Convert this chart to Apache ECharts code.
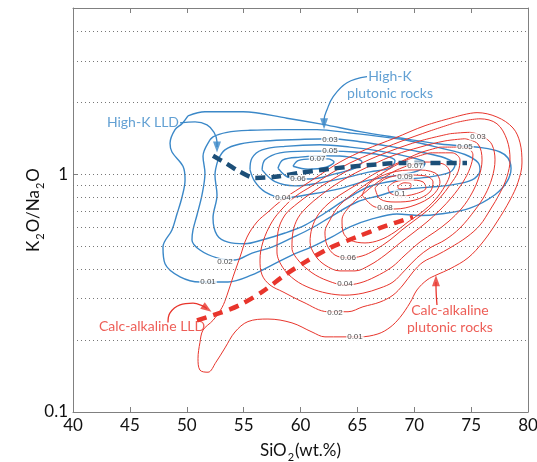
<!DOCTYPE html>
<html><head><meta charset="utf-8">
<script src="https://cdn.jsdelivr.net/npm/echarts@6/dist/echarts.min.js"></script>
<style>html,body{margin:0;padding:0;background:#fff}#c{width:537px;height:462px}</style>
</head><body><div id="c"></div>
<script>
// ---------- data ----------
const xTicks = [40, 45, 50, 55, 60, 65, 70, 75, 80];
const yLabelTicks = [0.1, 1];
const yGridValues = [0.2, 0.3, 0.4, 0.5, 0.6, 0.7, 0.8, 0.9, 1, 2, 3, 4];

// High-K plutonic rocks density contours (SiO2, K2O/Na2O)
const blue01 = [[50.11,1.76],[51.60,1.83],[54.95,1.83],[58.81,1.72],[61.98,1.62],[65.23,1.51],[68.75,1.42],[72.26,1.34],[76.04,1.29],[77.54,1.24],[78.24,1.17],[78.51,1.06],[78.15,0.93],[77.10,0.82],[74.90,0.72],[72.26,0.68],[70.51,0.67],[68.48,0.68],[66.37,0.65],[64.35,0.60],[62.77,0.545],[61.01,0.495],[59.25,0.457],[57.49,0.415],[55.74,0.377],[53.63,0.352],[51.16,0.352],[49.41,0.37],[48.09,0.42],[47.91,0.494],[48.70,0.583],[49.14,0.68],[49.58,0.80],[49.85,0.946],[49.67,1.08],[48.70,1.24],[48.53,1.35],[48.97,1.54],[49.58,1.63]];
const blue02 = [[51.87,1.35],[52.31,1.435],[53.54,1.50],[55.56,1.53],[58.46,1.54],[61.45,1.54],[64.35,1.49],[67.25,1.435],[69.63,1.38],[72.26,1.29],[74.46,1.21],[75.60,1.12],[75.78,1.04],[75.08,0.946],[73.14,0.90],[71.12,0.88],[68.75,0.858],[66.81,0.81],[64.97,0.764],[62.77,0.667],[61.01,0.594],[59.25,0.54],[57.49,0.494],[55.74,0.466],[54.24,0.436],[52.66,0.445],[51.16,0.48],[50.46,0.529],[50.55,0.583],[50.90,0.674],[51.34,0.818],[51.60,1.01],[51.43,1.19]];
const blue03 = [[52.75,1.149],[53.36,1.266],[54.68,1.34],[56.88,1.38],[59.96,1.40],[62.59,1.41],[65.23,1.37],[67.87,1.31],[70.51,1.24],[72.70,1.17],[73.58,1.094],[73.14,1.02],[71.38,0.975],[68.75,0.946],[66.11,0.89],[63.91,0.78],[62.15,0.687],[60.40,0.611],[58.64,0.566],[56.62,0.529],[55.12,0.51],[53.63,0.518],[52.66,0.555],[52.31,0.655],[52.66,0.818],[52.48,0.99]];
const blue04 = [[55.56,1.043],[55.74,1.17],[56.62,1.266],[58.64,1.31],[61.71,1.33],[64.35,1.30],[66.99,1.25],[69.63,1.18],[70.95,1.115],[70.51,1.043],[68.75,0.993],[66.11,0.946],[63.47,0.87],[61.01,0.826],[58.46,0.795],[56.88,0.843],[55.99,0.93]];
const blue05 = [[56.62,1.043],[56.88,1.149],[58.20,1.23],[60.40,1.25],[62.59,1.25],[64.79,1.24],[66.99,1.206],[68.31,1.14],[67.87,1.06],[66.11,1.023],[63.91,0.965],[61.71,0.92],[59.52,0.893],[57.76,0.93]];
const blue06 = [[58.02,1.06],[58.46,1.149],[59.96,1.18],[62.15,1.195],[64.35,1.18],[65.41,1.125],[64.79,1.06],[63.03,1.003],[60.84,0.955],[59.08,0.965]];
const blue07 = [[59.34,1.08],[59.78,1.14],[61.01,1.16],[62.42,1.16],[62.95,1.125],[62.24,1.07],[60.66,1.05]];
const blueLabels = [[51.87,0.352,'0.01'],[53.36,0.427,'0.02'],[62.59,1.40,'0.03'],[58.46,0.795,'0.04'],[62.59,1.25,'0.05'],[59.78,0.955,'0.06'],[61.5,1.16,'0.07']];

// Calc-alkaline plutonic rocks density contours
const red01 = [[73.58,1.74],[75.52,1.815],[77.27,1.74],[78.68,1.565],[79.30,1.355],[79.47,1.115],[79.12,0.925],[78.42,0.779],[77.27,0.63],[76.04,0.519],[74.73,0.445],[73.14,0.40],[72.0,0.378],[71.12,0.359],[70.24,0.326],[69.63,0.288],[68.75,0.25],[67.87,0.227],[66.81,0.213],[65.23,0.207],[63.65,0.207],[62.15,0.207],[61.01,0.217],[59.25,0.237],[57.14,0.246],[55.38,0.24],[54.24,0.217],[53.36,0.186],[52.57,0.162],[51.87,0.147],[51.16,0.15],[50.99,0.168],[51.16,0.196],[51.43,0.221],[52.31,0.243],[53.10,0.275],[53.54,0.31],[54.07,0.37],[54.68,0.448],[55.30,0.544],[56.18,0.63],[57.14,0.693],[58.37,0.779],[59.96,0.875],[61.71,0.993],[63.47,1.125],[65.67,1.266],[68.31,1.42],[70.95,1.60]];
const red02 = [[73.58,1.645],[75.78,1.71],[77.27,1.63],[78.15,1.395],[78.42,1.149],[78.15,0.975],[77.54,0.834],[76.66,0.707],[75.78,0.611],[74.64,0.545],[73.14,0.49],[72.0,0.457],[70.77,0.427],[69.89,0.388],[69.01,0.342],[68.13,0.31],[66.99,0.29],[65.49,0.277],[64.18,0.264],[62.42,0.264],[60.22,0.29],[58.46,0.32],[57.32,0.342],[56.62,0.377],[56.44,0.436],[56.70,0.519],[57.49,0.63],[58.46,0.721],[59.60,0.81],[61.01,0.893],[62.59,1.003],[64.35,1.115],[66.55,1.24],[68.75,1.37],[71.38,1.52]];
const red03 = [[73.14,1.48],[74.90,1.50],[76.22,1.42],[76.84,1.329],[77.10,1.149],[76.84,0.965],[76.22,0.818],[75.34,0.707],[74.02,0.594],[72.70,0.529],[71.38,0.49],[70.24,0.445],[69.19,0.395],[68.13,0.352],[66.99,0.332],[65.49,0.316],[63.91,0.31],[62.33,0.316],[60.84,0.332],[59.52,0.359],[58.46,0.404],[57.93,0.471],[58.02,0.572],[58.64,0.674],[59.78,0.757],[60.84,0.826],[61.89,0.893],[63.47,0.993],[65.41,1.115],[67.87,1.25],[70.51,1.38]];
const red04 = [[74.46,1.41],[75.60,1.34],[75.96,1.149],[75.69,0.975],[75.08,0.834],[74.20,0.721],[72.97,0.63],[71.82,0.572],[70.51,0.519],[69.19,0.457],[68.04,0.407],[66.55,0.37],[65.23,0.349],[63.91,0.342],[62.42,0.356],[61.01,0.385],[59.78,0.436],[59.25,0.49],[59.34,0.572],[59.78,0.655],[60.66,0.735],[61.71,0.81],[62.77,0.884],[64.35,0.984],[66.29,1.094],[68.31,1.206],[70.51,1.30],[72.70,1.38]];
const red05 = [[72.26,1.30],[74.46,1.30],[75.16,1.206],[74.90,1.06],[74.29,0.928],[73.32,0.802],[72.26,0.707],[71.12,0.63],[69.89,0.566],[68.75,0.514],[67.43,0.457],[66.11,0.415],[64.79,0.392],[63.47,0.392],[62.15,0.415],[61.27,0.457],[60.84,0.519],[61.01,0.594],[61.54,0.674],[62.42,0.75],[63.47,0.818],[65.05,0.91],[66.81,1.023],[68.75,1.125],[70.51,1.23]];
const red06 = [[71.38,1.23],[73.32,1.23],[74.02,1.149],[73.85,1.023],[73.14,0.901],[72.26,0.795],[71.21,0.707],[70.07,0.642],[68.92,0.583],[67.87,0.529],[66.55,0.48],[65.41,0.453],[64.18,0.445],[63.03,0.457],[62.33,0.504],[62.15,0.572],[62.59,0.642],[63.30,0.728],[64.35,0.81],[65.67,0.901],[67.25,1.013],[69.19,1.14]];
const red07 = [[69.63,1.094],[70.95,1.125],[72.53,1.105],[73.14,1.013],[72.70,0.893],[71.82,0.779],[70.68,0.693],[69.45,0.63],[68.31,0.572],[66.99,0.529],[65.67,0.514],[64.35,0.529],[63.74,0.572],[63.65,0.642],[64.35,0.735],[65.41,0.818],[66.81,0.928],[68.31,1.033]];
const red08 = [[65.41,0.818],[66.11,0.92],[67.87,1.013],[70.07,1.043],[71.82,1.013],[72.26,0.928],[71.65,0.818],[70.07,0.742],[68.31,0.714],[66.55,0.728]];
const red09 = [[66.55,0.875],[67.43,0.955],[69.19,0.993],[70.95,0.984],[71.65,0.928],[71.38,0.842],[70.07,0.779],[68.31,0.764],[66.99,0.787]];
const red10 = [[67.69,0.884],[68.31,0.928],[69.63,0.946],[70.77,0.928],[71.03,0.875],[70.07,0.826],[68.75,0.81],[67.87,0.834]];
const red11 = [[68.57,0.893],[69.10,0.92],[69.71,0.91],[69.71,0.884],[69.10,0.867],[68.57,0.875]];
const redLabels = [[64.79,0.207,'0.01'],[63.03,0.262,'0.02'],[75.6,1.44,'0.03'],[63.91,0.345,'0.04'],[74.46,1.30,'0.05'],[64.18,0.445,'0.06'],[70.07,1.09,'0.07'],[67.43,0.72,'0.08'],[69.19,0.975,'0.09'],[68.75,0.826,'0.1']];

// liquid lines of descent
const highKLLD = [[52.31,1.195],[53.54,1.105],[54.68,1.023],[56.0,0.965],[57.76,0.975],[59.96,1.013],[62.59,1.053],[66.11,1.094],[69.01,1.115],[74.64,1.115]];
const calcLLD = [[50.90,0.243],[52.92,0.261],[54.68,0.282],[56.62,0.32],[58.64,0.377],[60.40,0.427],[62.59,0.49],[64.97,0.545],[67.25,0.60],[69.89,0.661]];

// annotations: [x, y, text]
const blueNotes = [[46.15,1.645,'High-K LLD'],[67.87,2.37,'High-K\nplutonic rocks']];
const redNotes = [[46.95,0.229,'Calc-alkaline LLD'],[73.14,0.246,'Calc-alkaline\nplutonic rocks']];
// leader paths and arrow heads [x, y, heading]
const blueLeaders = [
  [[49.41,1.645],[50.73,1.66],[51.78,1.613],[52.40,1.50],[52.66,1.37],[52.66,1.30]],
  [[65.85,2.57],[64.09,2.425],[62.86,2.116],[62.33,1.866],[62.07,1.693],[62.07,1.63]]];
const redLeaders = [
  [[48.35,0.238],[48.53,0.261],[49.41,0.282],[50.55,0.287],[51.43,0.279],[51.78,0.272]],
  [[72.0,0.282],[71.91,0.342],[71.91,0.352]]];
const blueHeads = [[52.66,1.30,180],[62.07,1.63,180]];
const redHeads = [[51.78,0.272,-125],[71.91,0.356,0]];

// ---------- styling ----------
const BLUE = '#3b88c8', RED = '#e8352c', DARKBLUE = '#1c4f78', AXIS = '#808080';
const FONT = 'Lato';
const closed = a => a.concat([a[0]]);
const series = [];

series.push({type:'line', data:[[40,0.1]], symbol:'none', silent:true, z:1,
  markLine:{silent:true, symbol:'none', animation:false, label:{show:false},
    lineStyle:{type:[1,3], color:'#777', width:1},
    data: yGridValues.map(v => ({yAxis:v}))}});

[blue01,blue02,blue03,blue04,blue05,blue06,blue07].forEach(d => series.push({
  type:'line', data:closed(d), symbol:'none', smooth:0.35, silent:true, z:3,
  lineStyle:{color:BLUE, width:1.4}}));
[red01,red02,red03,red04,red05,red06,red07,red08,red09,red10,red11].forEach(d => series.push({
  type:'line', data:closed(d), symbol:'none', smooth:0.35, silent:true, z:4,
  lineStyle:{color:RED, width:1}}));

series.push({type:'line', data:highKLLD, symbol:'none', smooth:0.3, silent:true, z:6,
  lineStyle:{color:DARKBLUE, width:4.5, type:[10,6], cap:'butt'}});
series.push({type:'line', data:calcLLD, symbol:'none', smooth:0.3, silent:true, z:6,
  lineStyle:{color:RED, width:4.5, type:[10,7], cap:'butt'}});

const contourLabel = (data, z) => ({type:'scatter', data, symbolSize:0, silent:true, z,
  label:{show:true, position:'inside', formatter:p=>p.value[2], fontSize:8, fontFamily:'Liberation Sans',
    color:'#222', backgroundColor:'#fff', padding:[0,1]}});
series.push(contourLabel(blueLabels, 7));
series.push(contourLabel(redLabels, 7));

const noteSeries = (data, color) => ({type:'scatter', data, symbolSize:0, silent:true, z:8,
  label:{show:true, position:'inside', formatter:p=>p.value[2], fontSize:14, fontFamily:FONT,
    color, lineHeight:17, align:'center'}});
series.push(noteSeries(blueNotes, BLUE));
series.push(noteSeries(redNotes, RED));

const leaderSeries = (d, color) => ({type:'line', data:d, symbol:'none', smooth:0.4, silent:true, z:8,
  lineStyle:{color, width:1.3}});
blueLeaders.forEach(d => series.push(leaderSeries(d, BLUE)));
redLeaders.forEach(d => series.push(leaderSeries(d, RED)));
const headSeries = (d, color) => ({type:'scatter', data:d, symbol:'triangle', symbolSize:[8,11],
  symbolRotate:p => p[2], silent:true, z:9, itemStyle:{color}});
series.push(headSeries(blueHeads, BLUE));
series.push(headSeries(redHeads, RED));

const nameRich = {n:{fontSize:17, fontFamily:FONT, color:'#111'}, s:{fontSize:11, fontFamily:FONT, color:'#111', padding:[14,1,0,1]}};

const chart = echarts.init(document.getElementById('c'), null, {renderer:'canvas'});
chart.setOption({
  animation:false,
  backgroundColor:'#fff',
  grid:{left:73, right:9, top:8, bottom:50, containLabel:false, outerBoundsMode:'none'},
  xAxis:[{type:'value', min:xTicks[0], max:xTicks[xTicks.length-1], interval:5,
      name:'{n|SiO}{s|2}{n|(wt.%)}', nameLocation:'middle', nameGap:26, nameMoveOverlap:false, nameTextStyle:{rich:nameRich},
      axisLine:{lineStyle:{color:AXIS}}, axisTick:{inside:true, length:5, lineStyle:{color:AXIS}},
      axisLabel:{fontSize:17, fontFamily:FONT, color:'#111', margin:5},
      splitLine:{show:false}},
    {type:'value', position:'top', min:xTicks[0], max:xTicks[xTicks.length-1], interval:5,
      axisLine:{lineStyle:{color:AXIS}}, axisTick:{inside:true, length:5, lineStyle:{color:AXIS}},
      axisLabel:{show:false}, splitLine:{show:false}}],
  yAxis:[{type:'log', logBase:10, min:0.1, max:5,
      name:'{n|K}{s|2}{n|O/Na}{s|2}{n|O}', nameLocation:'middle', nameGap:27, nameRotate:90, nameMoveOverlap:false, nameTextStyle:{rich:nameRich},
      axisLine:{show:true, lineStyle:{color:AXIS}}, axisTick:{show:true, inside:true, length:4, lineStyle:{color:AXIS}},
      axisLabel:{fontSize:17, fontFamily:FONT, color:'#111', margin:5,
        formatter:v => yLabelTicks.some(t=>Math.abs(t-v)<1e-9) ? String(v) : ''},
      splitLine:{show:false}},
    {type:'log', logBase:10, min:0.1, max:5, position:'right',
      axisLine:{show:true, lineStyle:{color:AXIS}}, axisTick:{show:false}, axisLabel:{show:false}, splitLine:{show:false}}],
  series
});
</script></body></html>
